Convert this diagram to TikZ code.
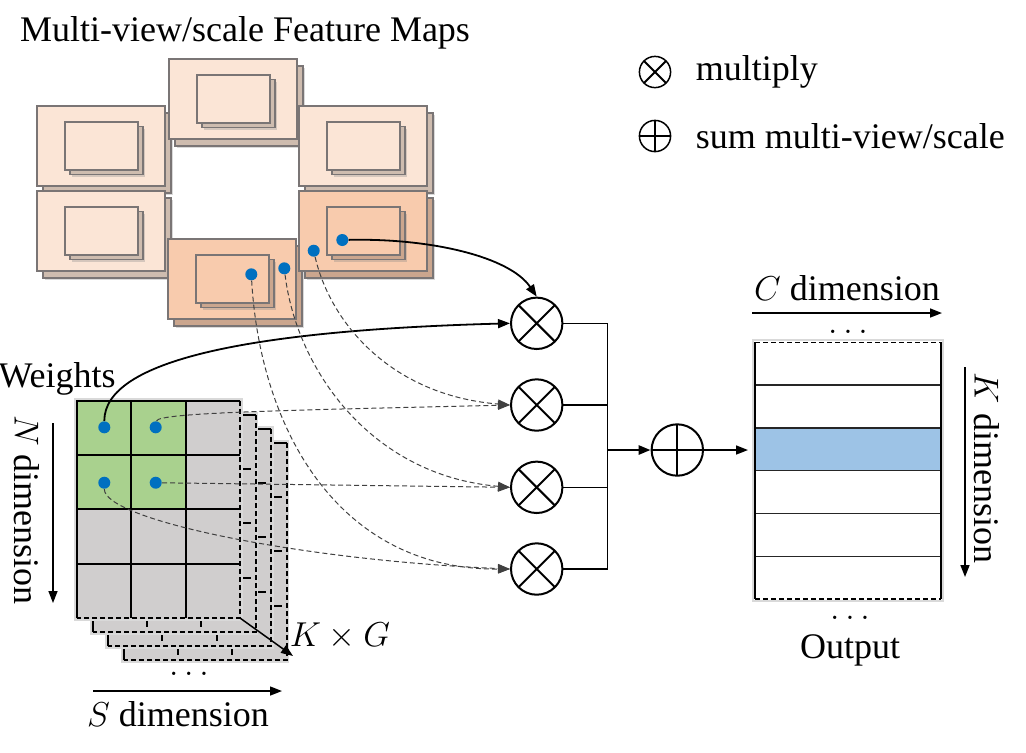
\documentclass[tikz,border=0pt]{standalone}
\usepackage{fontspec}
\setmainfont{Liberation Serif}
\usepackage{tikz}
\usetikzlibrary{arrows.meta,positioning,calc,shadows}
\definecolor{fmlight}{HTML}{FBE5D6}
\definecolor{fmorange}{HTML}{F8CBAD}
\definecolor{fmedge}{HTML}{7A7575}
\definecolor{wgreen}{HTML}{A9D18E}
\definecolor{wgray}{HTML}{D0CECE}
\definecolor{dotblue}{HTML}{0070C0}
\definecolor{rowblue}{HTML}{9DC3E6}

\begin{document}
\begin{tikzpicture}[
  x=0.5pt, y=-0.5pt,
  every node/.style={font=\fontsize{18}{22}\selectfont, inner sep=0pt},
  fmfront/.style={draw=fmedge, line width=0.9pt},
  fmback/.style={draw=fmedge, line width=0.9pt,
    drop shadow={shadow xshift=1.2pt, shadow yshift=-1.2pt, opacity=0.3}},
  cellline/.style={line width=1pt},
  layeredge/.style={line width=1pt, dash pattern=on 2.5pt off 1.5pt},
  halo/.style={draw=black!15, line width=0.8pt},
  dot/.style={circle, fill=dotblue, minimum size=6pt},
  mult/.style={circle, draw, line width=1pt, minimum size=25.7pt,
    path picture={\draw[line width=1pt] (path picture bounding box.center)
      +(45:14pt) -- +(225:14pt) +(135:14pt) -- +(315:14pt);}},
  summer/.style={circle, draw, line width=1pt, minimum size=25.7pt,
    path picture={\draw[line width=1pt] (path picture bounding box.center)
      +(0:14pt) -- +(180:14pt) +(90:14pt) -- +(270:14pt);}},
  arr/.style={-{Triangle[length=6pt,width=4.5pt]}, line width=0.75pt},
  solidlink/.style={-{Triangle[length=6pt,width=4.5pt]}, line width=0.9pt},
  link/.style={-{Triangle[length=6pt,width=4.5pt]}, line width=0.5pt, black!75,
    dash pattern=on 2.5pt off 1.5pt}]

\useasboundingbox (0,0) rectangle (1026,752);

% ---- multi-view/scale feature maps ---------------------------------------
\node (title) at (245,33) {Multi-view/scale Feature Maps};
\foreach \fx/\fy/\fc in {37/106/fmlight, 37/191/fmlight, 169/59/fmlight,
                         299/106/fmlight, 168/239/fmorange, 299/191/fmorange}{
  \begin{scope}[shift={(\fx,\fy)}]
    \draw[fmback, fill=\fc!82!black] (6,7) rectangle (134,87);
    \draw[fmfront, fill=\fc] (0,0) rectangle (128,80);
    \draw[fmback, fill=\fc!82!black] (33,20.5) rectangle (106,68.5);
    \draw[fmfront, fill=\fc] (28,16) rectangle (101,64);
  \end{scope}
}
\node[dot] (fd1) at (342.3,240) {};
\node[dot] (fd2) at (313.7,250.7) {};
\node[dot] (fd3) at (284.3,268.3) {};
\node[dot] (fd4) at (251.3,274.3) {};

% ---- legend ---------------------------------------------------------------
\node[mult, minimum size=15.6pt, line width=0.75pt] (legx) at (655,72) {};
\node[right=12pt of legx] (legxt) {multiply};
\node[summer, minimum size=15.6pt, line width=0.75pt] (legp) at (655,136) {};
\node[right=12pt of legp] (legpt) {sum multi-view/scale};

% ---- the weights, K x G layers ----------------------------------------------
\foreach \k in {3,2,1,0}{
  \ifnum\k=0 \def\gap{0}\else\def\gap{5}\fi
  \begin{scope}[shift={(77+15.5*\k,401+14*\k)}]
    \draw[halo, fill=wgray] (-2,-2) rectangle (165,219);
    \ifnum\k=0 \fill[wgreen] (0,0) rectangle (108.8,108.4); \fi
    \foreach \cx in {54.4,108.8} \draw[cellline] (\cx,0) -- (\cx,217-\gap);
    \foreach \cy in {54.2,108.4,162.6} \draw[cellline] (0,\cy) -- (163-\gap,\cy);
    \draw[cellline] (163,0) -- (0,0) -- (0,217);
    \draw[layeredge] (163,0) -- (163,217) -- (0,217);
  \end{scope}
}
\node[dot] (w11) at (104.3,427.3) {};
\node[dot] (w12) at (155.7,427.3) {};
\node[dot] (w21) at (104.3,482.7) {};
\node[dot] (w22) at (155.7,482.7) {};

\node[anchor=east] (wlab) at (116,379) {Weights};
\node[rotate=-90] (nlab) at (27,510) {$N$ dimension};
\coordinate (nA) at (53,423);
\coordinate (nB) at (53,603);
\draw[arr] (nA) -- (nB);
\coordinate (kgA) at (240,618);
\coordinate (kgB) at (293,656);
\draw[arr] (kgA) -- (kgB);
\node (kglab) at (340,636) {$K\times G$};
\node (sdots) at (189,674) {$\ldots$};
\coordinate (sA) at (93,691);
\coordinate (sB) at (282,691);
\draw[arr] (sA) -- (sB);
\node (slab) at (178,714) {$S$ dimension};

% ---- multiply and sum -----------------------------------------------------
\node[mult] (m1) at (536.7,323.3) {};
\node[mult] (m2) at (536.7,405) {};
\node[mult] (m3) at (536.7,487.3) {};
\node[mult] (m4) at (536.7,569) {};
\node[summer] (sum) at (677.3,450) {};
\coordinate (bus) at (607.7,450);
\foreach \m in {m1,m2,m3,m4} \draw[line width=0.75pt] (\m.east) -| (bus);
\draw[arr, line width=1.3pt] (bus) -- (sum.west);

% ---- output ---------------------------------------------------------------
\node (clab) at (847,288) {$C$ dimension};
\coordinate (cA) at (752,313);
\coordinate (cB) at (942,313);
\draw[arr] (cA) -- (cB);
\node (otdots) at (848,332) {$\ldots$};
\draw[halo] (753,340) rectangle (943,601);
\fill[rowblue] (755,427.9) rectangle (941,470.7);
\foreach \ry in {385.1,427.9,470.7,513.4,556.2}
  \draw[line width=0.7pt, black!85] (755,\ry) -- (941,\ry);
\draw[line width=0.75pt] (755,342.3) -- (755,599) (941,342.3) -- (941,599);
\draw[layeredge, line width=0.75pt] (755,342.3) -- (941,342.3) (755,599) -- (941,599);
\coordinate (outin) at (748,450);
\draw[arr] (sum.east) -- (outin);
\node (obdots) at (850,618) {$\ldots$};
\node (olab) at (850,650) {Output};
\coordinate (kA) at (965,367);
\coordinate (kB) at (965,577);
\draw[arr] (kA) -- (kB);
\node[rotate=-90] (klab) at (987,468) {$K$ dimension};

% ---- connectors -----------------------------------------------------------
\draw[solidlink] (fd1) .. controls +(88,-2) and +(-27,-40) .. (m1.north);
\draw[solidlink] (w11) .. controls +(0,-67) and +(-261,7) .. (m1.west);
\draw[link] (w12) .. controls +(2,-15) and +(-211,5) .. (m2.west);
\draw[link] (fd2) .. controls +(16,70) and +(-121,-10) .. (m2.west);
\draw[link] (w22) -- (m3.west);
\draw[link] (fd3) .. controls +(12,100) and +(-140,-12) .. (m3.west);
\draw[link] (w21) .. controls +(0,37) and +(-211,-9) .. (m4.west);
\draw[link] (fd4) .. controls +(9,156) and +(-171,1) .. (m4.west);

\end{tikzpicture}
\end{document}
